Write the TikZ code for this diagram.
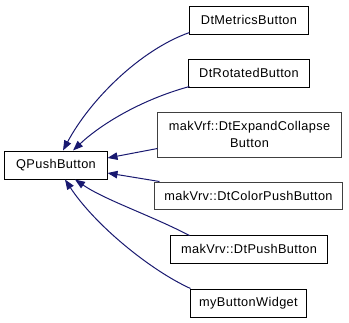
\documentclass[tikz,border=0pt]{standalone}
\usepackage{fontspec}
\setmainfont{Liberation Sans}[LetterSpace=3]
\usetikzlibrary{arrows.meta}
\definecolor{edgeblue}{HTML}{191970}
\definecolor{boxgray}{HTML}{404040}
\begin{document}
\begin{tikzpicture}[x=1bp,y=-1bp,
  cls/.style={draw=black,fill=white,line width=1bp,inner sep=0,font=\fontsize{12.8}{16.5}\selectfont,align=center},
  grayc/.style={cls,draw=boxgray},
  edge/.style={draw=edgeblue,line width=1bp,-{Triangle[length=10bp,width=7.5bp]}}]
\useasboundingbox (0,0) rectangle (349,323);
\node[cls,minimum width=102bp,minimum height=28bp] (q) at (56,165) {QPushButton};
\node[cls,minimum width=118bp,minimum height=28bp] (m) at (249,20) {DtMetricsButton};
\node[cls,minimum width=120bp,minimum height=28bp] (r) at (249,73) {DtRotatedButton};
\node[grayc,minimum width=183bp,minimum height=45bp] (e) at (249.5,134.5) {makVrf::DtExpandCollapse\\Button};
\node[grayc,minimum width=187bp,minimum height=27bp] (c) at (248.5,195.5) {makVrv::DtColorPushButton};
\node[cls,minimum width=156bp,minimum height=28bp] (p) at (249,249) {makVrv::DtPushButton};
\node[cls,minimum width=115bp,minimum height=28bp] (w) at (248.5,303) {myButtonWidget};
\path[edge] ([yshift=2bp]m.south west) .. controls (140,50) and (90,100) .. ([xshift=7bp]q.north);
\path[edge] ([xshift=1bp,yshift=1bp]r.south west) .. controls (140,100) and (100,125) .. ([xshift=17bp]q.north);
\path[edge] ([yshift=9bp]e.south west) -- ([yshift=7bp]q.east);
\path[edge] ([xshift=5bp]c.north west) -- ([yshift=-8bp]q.east);
\path[edge] ([xshift=19bp,yshift=-1bp]p.north west) .. controls (150,215) and (105,200) .. ([xshift=19bp]q.south);
\path[edge] (w.north west) .. controls (150,270) and (95,225) .. ([xshift=9bp]q.south);
\end{tikzpicture}
\end{document}
